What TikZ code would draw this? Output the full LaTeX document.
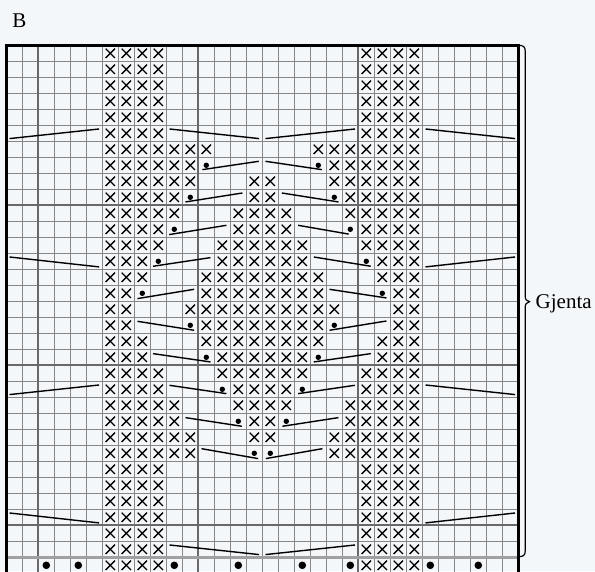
\documentclass[tikz,border=0pt]{standalone}
\usepackage{fontspec}
\setmainfont{Liberation Serif}
\definecolor{bg}{RGB}{244,247,250}
\definecolor{gridc}{RGB}{135,135,135}
\definecolor{gridmajor}{RGB}{105,105,105}
\definecolor{sepc}{RGB}{160,160,160}
\tikzset{
  gridline/.style={draw=gridc, line width=0.9pt},
  majorline/.style={draw=gridmajor, line width=1.8pt},
  sepline/.style={draw=sepc, line width=3pt},
  borderline/.style={draw=black, line width=2.6pt},
  xmark/.style={draw=black, line width=1.3pt},
  seam/.style={draw=black, line width=1.4pt},
  bracketline/.style={draw=black, line width=1.2pt},
  lbl/.style={inner sep=0pt, font=\fontsize{21}{24}\selectfont},
}
\newcommand{\xcell}[2]{\draw[xmark] (#1+0.21,#2+0.21) -- (#1+0.79,#2+0.79) (#1+0.79,#2+0.21) -- (#1+0.21,#2+0.79);}
\begin{document}
\begin{tikzpicture}[x=1pt,y=-1pt]
\useasboundingbox (0,0) rectangle (595,571);
\fill[bg] (0,0) rectangle (595,571);
\clip (0,0) rectangle (595,571);
\node[lbl, anchor=base west] (title) at (12.2,27.3) {B};
\node[lbl, anchor=base west] (gjenta) at (535.5,308.3) {Gjenta};
\draw[bracketline] (518.5,45.3) .. controls (523.5,45.3) and (525.2,47) .. (525.2,51)
  -- (525.2,296) .. controls (525.2,299.5) and (526.5,301) .. (529.5,301.7)
  .. controls (526.5,302.4) and (525.2,304) .. (525.2,307.5)
  -- (525.2,551) .. controls (525.2,555) and (523.5,556.7) .. (518.5,556.7);
\begin{scope}[shift={(6.3,45.3)}, x=16pt, y=-16pt]
  % grid
  \foreach \c in {1,...,31} {\draw[gridline] (\c,0) -- (\c,34);}
  \foreach \r in {1,...,31} {\draw[gridline] (0,\r) -- (32,\r);}
  \draw[gridline] (0,33) -- (32,33);
  \foreach \c in {2,12,22} {\draw[majorline] (\c,0) -- (\c,34);}
  \foreach \r in {10,20,30} {\draw[majorline] (0,\r) -- (32,\r);}
  \draw[sepline] (0,32) -- (32,32);
  \draw[borderline] (0,34) -- (0,0) -- (32,0) -- (32,34);
  % side cross blocks
  \foreach \r/\L in {0/9,1/9,2/9,3/9,4/9,5/9,6/12,7/11,8/11,9/10,10/10,11/9,12/9,13/8,14/8,15/7,16/7,17/7,18/8,19/8,20/9,21/9,22/10,23/10,24/11,25/11,26/9,27/9,28/9,29/9,30/9,31/9,32/9} {
    \foreach \c in {6,...,\L} {\xcell{\c}{\r}}
    \pgfmathtruncatemacro\R{31-\L}
    \foreach \c in {\R,...,25} {\xcell{\c}{\r}}
  }
  % central cross blocks
  \foreach \r/\C in {8/15,9/15,10/14,11/14,12/13,13/13,14/12,15/12,16/11,17/12,18/12,19/13,20/13,21/14,22/14,23/15,24/15} {
    \pgfmathtruncatemacro\D{31-\C}
    \foreach \c in {\C,...,\D} {\xcell{\c}{\r}}
  }
  % small dots
  \foreach \r/\d in {7/12,9/11,11/10,13/9,15/8,17/11,19/12,21/13,23/14,25/15} {
    \fill (\d+0.5,\r+0.5) circle (2.7pt);
    \fill (31-\d+0.5,\r+0.5) circle (2.7pt);
  }
  % bottom row dots
  \foreach \c in {2,4,10,14,18,21,26,29} {\fill (\c+0.5,32.5) circle (3.8pt);}
  % outer seam lines
  \foreach \r in {5,21} {
    \draw[seam] (0.2,\r+0.83) -- (5.8,\r+0.23);
    \draw[seam] (26.2,\r+0.23) -- (31.8,\r+0.83);
  }
  \foreach \r in {13,29} {
    \draw[seam] (0.2,\r+0.23) -- (5.8,\r+0.85);
    \draw[seam] (26.2,\r+0.85) -- (31.8,\r+0.23);
  }
  % long centre V lines
  \foreach \r in {5,31} {
    \draw[seam] (10.2,\r+0.23) -- (15.8,\r+0.83);
    \draw[seam] (16.2,\r+0.83) -- (21.8,\r+0.23);
  }
  % short lines by dots
  \draw[seam] (12.26,7.77) -- (15.78,7.25);
  \draw[seam] (16.2,7.25) -- (19.72,7.77);
  \draw[seam] (11.2,9.79) -- (14.76,9.23);
  \draw[seam] (17.22,9.23) -- (20.76,9.79);
  \draw[seam] (10.18,11.83) -- (13.76,11.25);
  \draw[seam] (18.24,11.25) -- (21.4,11.8);
  \draw[seam] (9.17,13.81) -- (12.76,13.27);
  \draw[seam] (19.22,13.23) -- (22.78,13.81);
  \draw[seam] (8.2,15.83) -- (11.74,15.25);
  \draw[seam] (20.2,15.25) -- (23.76,15.79);
  \draw[seam] (8.2,17.25) -- (11.74,17.81);
  \draw[seam] (20.2,17.81) -- (23.76,17.23);
  \draw[seam] (9.17,19.27) -- (12.76,19.79);
  \draw[seam] (19.22,19.79) -- (22.78,19.27);
  \draw[seam] (10.2,21.25) -- (13.76,21.77);
  \draw[seam] (18.24,21.77) -- (21.78,21.25);
  \draw[seam] (11.2,23.27) -- (14.72,23.81);
  \draw[seam] (17.26,23.81) -- (20.76,23.27);
  \draw[seam] (12.2,25.21) -- (15.74,25.83);
  \draw[seam] (16.22,25.83) -- (19.76,25.21);
\end{scope}
\end{tikzpicture}
\end{document}
